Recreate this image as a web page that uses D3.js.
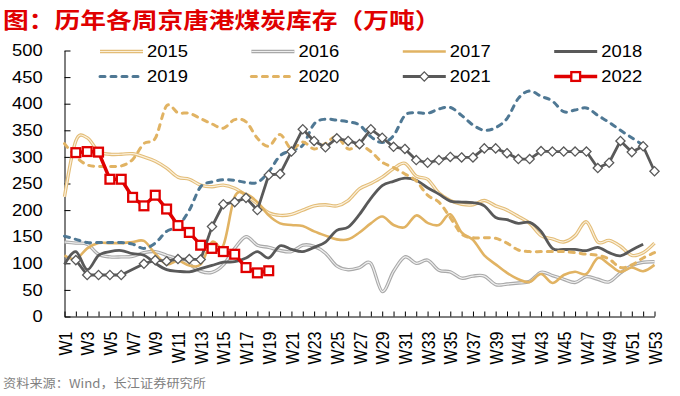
<!DOCTYPE html>
<html>
<head>
<meta charset="utf-8">
<script src="https://cdn.jsdelivr.net/npm/d3@7"></script>
<style>
  body { margin: 0; background: #fff; }
  svg { display: block; }
  text { font-family: "Liberation Sans", Arial, sans-serif; }
</style>
</head>
<body>
<svg id="chart" width="680" height="396"></svg>
<script>
// categories and tick labels
const weeks = d3.range(1, 54).map(d => "W" + d);
const yTicks = [0, 50, 100, 150, 200, 250, 300, 350, 400, 450, 500];

// weekly stock, 10k tonnes
const y2015 = [225, 330, 336, 310, 305, 305, 306, 300, 292, 279, 262, 258, 247, 244, 247, 241, 228, 212, 195, 190,
  192, 200, 208, 210, 208, 218, 240, 250, 262, 278, 288, 264, 258, 232, 218, 211, 210, 218, 208, 200,
  188, 175, 152, 146, 140, 152, 178, 140, 143, 132, 115, 120, 138];
const y2016 = [140, 138, 136, 117, 112, 112, 113, 120, 122, 115, 108, 98, 85, 83, 97, 128, 150, 134, 130, 124,
  122, 134, 132, 119, 95, 88, 92, 100, 47, 85, 112, 100, 106, 87, 84, 72, 76, 76, 60, 61,
  63, 66, 83, 77, 70, 64, 75, 70, 65, 82, 96, 102, 103];
const y2017 = [115, 108, 128, 138, 138, 138, 140, 142, 118, 98, 105, 96, 98, 140, 134, 225, 230, 215, 190, 175,
  172, 170, 160, 152, 145, 145, 158, 175, 188, 172, 168, 190, 176, 172, 192, 158, 144, 115, 98, 82,
  70, 65, 80, 63, 78, 84, 80, 110, 98, 84, 92, 85, 97];
const y2018 = [98, 122, 88, 115, 122, 124, 118, 115, 100, 88, 85, 84, 90, 96, 102, 103, 110, 122, 110, 133,
  126, 122, 130, 140, 162, 168, 192, 222, 246, 254, 260, 256, 242, 230, 217, 215, 214, 208, 186, 182,
  175, 177, 160, 128, 126, 126, 124, 130, 120, 114, 125, 136, null];
const y2019 = [151, 145, 139, 139, 139, 139, 136, 128, 138, 160, 170, 200, 244, 253, 257, 256, 252, 252, 272, 302,
  312, 322, 362, 371, 369, 366, 360, 338, 327, 340, 378, 383, 382, 390, 393, 378, 360, 350, 355, 372,
  410, 424, 414, 405, 385, 388, 392, 378, 365, 350, 336, 322, null];
const y2020 = [325, 300, 285, 282, 282, 283, 295, 325, 335, 396, 383, 382, 372, 362, 354, 370, 366, 335, 320, 342,
  315, 328, 315, 325, 338, 315, 322, 310, 290, 280, 268, 255, 228, 215, 186, 155, 148, 148, 147, 138,
  125, 122, 122, 122, 122, 120, 117, 115, 108, 92, 97, 110, 120];
const y2021 = [null, 106, 78, 78, 78, 78, null, 99, 106, 104, 108, 108, 107, 169, 211, 215, 223, 200, 266, 268,
  310, 352, 330, 318, 335, 330, 324, 352, 336, 319, 315, 294, 289, 294, 300, 299, 299, 316, 316, 307,
  296, 296, 311, 310, 310, 310, 310, 279, 289, 330, 309, 320, 273];
const y2022 = [null, 308, 310, 309, 258, 258, 224, 208, 228, 202, 171, 158, 134, 128, 122, 117, 92, 82, 86];

const names = ["2015", "2016", "2017", "2018", "2019", "2020", "2021", "2022"];
const values = [y2015, y2016, y2017, y2018, y2019, y2020, y2021, y2022];

// look of each series
const styles = [
  {color: "#E3BD78", inner: "#FBF0DC", width: 3.4, double: true, smooth: true},
  {color: "#A9A9A9", inner: "#EFEFEF", width: 3.4, double: true, smooth: true},
  {color: "#E1B363", width: 2.6, smooth: true},
  {color: "#595959", width: 2.8, smooth: true},
  {color: "#4F7894", width: 3, dash: "5,6", smooth: true},
  {color: "#E1B363", width: 3, dash: "5,6", smooth: true},
  {color: "#595959", width: 2.8, marker: "diamond"},
  {color: "#E00000", width: 3.5, marker: "square"}
];

const W = 680, H = 396;
const svg = d3.select("#chart");
svg.append("rect").attr("width", W).attr("height", H).attr("fill", "#fff");

const x = d3.scalePoint().domain(weeks).range([64.5, 654.5]);
const y = d3.scaleLinear().domain([0, 500]).range([316.5, 50.5]);

// title + source
svg.append("text")
  .attr("transform", "translate(3,28) scale(1.17,1)")
  .style("font-family", '"Noto Sans CJK SC", sans-serif')
  .style("font-weight", "bold")
  .style("font-size", "22px")
  .attr("fill", "#E00000")
  .text("图：历年各周京唐港煤炭库存（万吨）");

svg.append("text")
  .attr("transform", "translate(3,388) scale(1.1,1)")
  .style("font-family", '"Noto Sans CJK SC", sans-serif')
  .style("font-size", "12px")
  .attr("fill", "#7F7F7F")
  .text("资料来源：Wind，长江证券研究所");

// axes
const yAxis = svg.append("g")
  .attr("transform", "translate(64.5,0)")
  .call(d3.axisLeft(y).tickValues(yTicks).tickSize(-6).tickSizeOuter(0));
yAxis.selectAll("text")
  .attr("x", -19)
  .attr("transform", "scale(1.15,1)")
  .style("font-size", "16px")
  .attr("fill", "#000");

const xAxis = svg.append("g")
  .attr("transform", "translate(0,316.5)")
  .call(d3.axisBottom(x).tickSize(-5).tickSizeOuter(0)
    .tickFormat((d, i) => i % 2 == 0 ? d : ""));
xAxis.selectAll("text")
  .attr("x", -15).attr("y", 0).attr("dy", "0.36em")
  .attr("transform", "rotate(-90) scale(1,1.15)")
  .style("text-anchor", "end")
  .style("font-size", "16px")
  .attr("fill", "#000");

svg.selectAll(".domain, .tick line").attr("stroke", "#000").attr("stroke-width", 1);

// marker shapes
function drawMarker(g, kind, px, py) {
  if (kind == "diamond") {
    g.append("path")
      .attr("d", `M${px},${py - 4.6}L${px + 4.6},${py}L${px},${py + 4.6}L${px - 4.6},${py}Z`)
      .attr("fill", "#fff").attr("stroke", "#595959").attr("stroke-width", 1.3);
  } else {
    g.append("rect")
      .attr("x", px - 4.4).attr("y", py - 4.4)
      .attr("width", 8.8).attr("height", 8.8)
      .attr("fill", "#fff").attr("stroke", "#E00000").attr("stroke-width", 2.3);
  }
}

function strokePath(g, d, st) {
  const p = g.append("path").attr("d", d).attr("fill", "none")
    .attr("stroke", st.color).attr("stroke-width", st.width)
    .attr("stroke-linejoin", "round")
    .attr("stroke-linecap", st.dash ? "round" : "butt");
  if (st.dash) p.attr("stroke-dasharray", st.dash);
  if (st.double) {
    g.append("path").attr("d", d).attr("fill", "none")
      .attr("stroke", st.inner).attr("stroke-width", st.width - 2.2);
  }
}

// series
const plot = svg.append("g");
values.forEach((vals, k) => {
  const st = styles[k];
  const pts = weeks.map((w, i) => ({w: w, v: vals[i]})).filter(d => d.v != null);
  const line = d3.line()
    .x(d => x(d.w)).y(d => y(d.v))
    .curve(st.smooth ? d3.curveCardinal.tension(0) : d3.curveLinear);
  const g = plot.append("g");
  strokePath(g, line(pts), st);
  if (st.marker) pts.forEach(d => drawMarker(g, st.marker, x(d.w), y(d.v)));
});

// legend, 4 columns x 2 rows
const legend = svg.append("g");
names.forEach((name, k) => {
  const st = styles[k];
  const lx = 100 + (k % 4) * 151.4;
  const ly = 51.5 + Math.floor(k / 4) * 25;
  const g = legend.append("g");
  strokePath(g, `M${lx},${ly}H${lx + 43}`, st);
  if (st.marker) drawMarker(g, st.marker, lx + 21.5, ly);
  g.append("text")
    .attr("transform", `translate(${lx + 47},${ly}) scale(1.15,1)`)
    .attr("dy", "0.36em")
    .style("font-size", "16px")
    .text(name);
});
</script>
</body>
</html>
